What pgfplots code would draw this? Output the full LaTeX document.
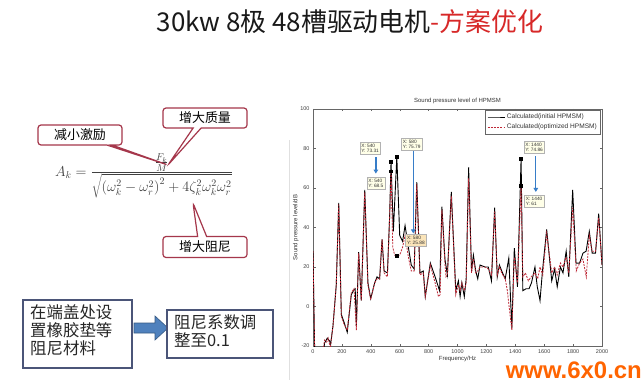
\documentclass[border=0pt]{standalone}
\usepackage{fontspec}
\setmainfont{Liberation Sans}
\newfontfamily\cjk{Noto Sans CJK SC}
\usepackage{pgfplots}
\pgfplotsset{compat=1.18}
\usetikzlibrary{shapes.callouts,arrows.meta}
\definecolor{optred}{RGB}{190,40,55}
\definecolor{callborder}{RGB}{165,55,75}
\definecolor{boxborder}{RGB}{75,85,120}
\definecolor{arrowblue}{RGB}{79,129,189}
\definecolor{tipblue}{RGB}{55,125,200}
\definecolor{tipfill}{RGB}{255,255,232}
\definecolor{tipfill2}{RGB}{250,228,185}
\definecolor{titlered}{RGB}{215,40,40}
\definecolor{wmorange}{RGB}{255,100,0}
\begin{document}
\begin{tikzpicture}
\begin{scope}[x=1bp,y=1bp]
\useasboundingbox (0,0) rectangle (642,388);
\fill[white] (0,0) rectangle (642,388);
% title
\node[anchor=center, font=\cjk\fontsize{26}{30}\selectfont, text=black!90] at (350,366) {30kw 8极 48槽驱动电机\textcolor{titlered}{-方案优化}};
% formula
\node[anchor=center, text=black!75, font=\fontsize{14}{16}\selectfont] at (144,212) {$\displaystyle A_k=\frac{\frac{F_k}{M}}{\sqrt{\left(\omega_k^2-\omega_r^2\right)^2+4\zeta_k^2\omega_k^2\omega_r^2}}$};
% callouts
\node[rectangle callout, draw=callborder, fill=white, line width=1.2bp, rounded corners=3bp,
  callout absolute pointer={(168,223)}, callout pointer width=5bp,
  minimum width=84bp, minimum height=20bp, inner sep=1bp, font=\cjk\fontsize{13}{15}\selectfont] at (80,253) {减小激励};
\node[rectangle callout, draw=callborder, fill=white, line width=1.2bp, rounded corners=3bp,
  callout absolute pointer={(168,223)}, callout pointer width=8bp,
  minimum width=84bp, minimum height=20bp, inner sep=1bp, font=\cjk\fontsize{13}{15}\selectfont] at (205,270) {增大质量};
\node[rectangle callout, draw=callborder, fill=white, line width=1.2bp, rounded corners=3bp,
  callout absolute pointer={(193,185)}, callout pointer width=9bp,
  minimum width=84bp, minimum height=21bp, inner sep=1bp, font=\cjk\fontsize{13}{15}\selectfont] at (205,141) {增大阻尼};
% bottom boxes
\draw[boxborder, line width=1.2bp, fill=white] (23,20) rectangle (132,88);
\node[anchor=north west, align=left, font=\cjk\fontsize{16.5}{18.5}\selectfont, text=black!85, inner sep=0pt] at (30,84) {在端盖处设\\置橡胶垫等\\阻尼材料};
\fill[arrowblue, draw=arrowblue!70!black, line width=0.6bp] (134,55) -- (155,55) -- (155,48) -- (168,60) -- (155,72) -- (155,65) -- (134,65) -- cycle;
\draw[boxborder, line width=1.2bp, fill=white] (167,30) rectangle (273,78);
\node[anchor=north west, align=left, font=\cjk\fontsize{16.5}{19}\selectfont, text=black!85, inner sep=0pt] at (174,74) {阻尼系数调\\整至0.1};
% faint figure border
\draw[black!12, line width=0.5bp] (289,248) -- (289,8);
\end{scope}
\begin{axis}[
  at={(313bp,42bp)}, anchor=south west,
  width=289bp, height=237bp, scale only axis,
  xmin=0, xmax=2000, ymin=-20, ymax=100,
  xtick={0,200,...,2000}, ytick={-20,0,...,100},
  tick align=inside, major tick length=2.5bp,
  tick style={black!60, line width=0.4bp},
  tick label style={font=\fontsize{5.5}{6}\selectfont, text=black!75},
  /pgf/number format/assume math mode=true,
  /pgf/number format/1000 sep={},
  title={Sound pressure level of HPMSM},
  title style={font=\fontsize{6}{7}\selectfont, text=black!80, yshift=-4bp},
  xlabel={Frequency/Hz}, ylabel={Sound pressure level/dB},
  xlabel style={font=\fontsize{6}{7}\selectfont, text=black!80, yshift=4bp},
  ylabel style={font=\fontsize{6}{7}\selectfont, text=black!80, yshift=-5bp},
  axis line style={black!60, line width=0.5bp},
  legend style={at={(0.995,0.995)}, anchor=north east, font=\fontsize{6.6}{7.5}\selectfont, draw=black!60, line width=0.4bp, inner sep=1.5bp, text=black!80},
  legend cell align=left,
  clip=true,
]
\addplot[black, line width=0.9bp] coordinates {
(0,28) (12,-25) (40,-30) (70,-25) (80,-18.5) (99,-16) (115,-17.5) (122,-19) (138,-10) (161,11) (178,52.5) (196,-4) (215,-8) (237,-13) (265,6) (284,8.5) (292,9) (300,-10) (316,27.5) (334,3) (358,59) (380,12) (399,4) (427,12) (443,15) (461,14) (478,34) (492,18) (515,17) (530,45) (540,73.31) (556,38) (580,75.79) (600,36) (620,33) (637,41) (660,30) (680,21) (700,19) (718,63) (740,17) (763,18) (777,5) (812,22) (845,15) (876,8) (892,50.5) (913,24) (930,16) (957,58) (988,8) (1006,13) (1018,5) (1030,12) (1047,5) (1060,14) (1077,70.5) (1097,18) (1110,26) (1126,18) (1140,14) (1156,21) (1190,20) (1213,20) (1235,13) (1257,50) (1275,15) (1290,21) (1306,18) (1330,14) (1355,24.5) (1376,-11) (1393,29.5) (1415,10) (1440,74.86) (1452,8) (1475,9) (1495,9) (1512,12) (1536,20) (1552,10) (1571,3) (1588,18) (1617,39) (1652,13) (1672,19) (1690,10) (1712,20) (1730,17) (1752,28) (1770,15) (1797,59) (1820,22) (1845,22) (1868,27) (1890,28) (1912,38) (1932,27) (1955,27) (1977,47) (2000,21)
};
\addlegendentry{Calculated(initial HPMSM)}
\addplot[optred, line width=0.8bp, dash pattern=on 2bp off 1.2bp] coordinates {
(0,28) (12,-25) (40,-30) (70,-22) (80,-17) (95,-18) (105,-16) (120,-21) (138,-10) (161,11) (178,52) (196,-5) (215,-9) (237,-12) (265,7) (284,9) (300,-12) (316,27) (334,3) (358,58) (380,11) (399,3.5) (427,12) (443,14) (461,14) (478,34) (492,17) (515,15) (530,45) (540,68.5) (552,30) (565,26) (580,25.88) (600,26) (620,30) (637,36) (660,25) (680,18) (700,18) (718,62) (740,16) (763,17) (777,5) (812,21) (845,12) (868,5) (880,6) (892,49) (913,22) (920,15) (930,16) (957,56) (988,6) (1006,11) (1018,8) (1030,12) (1047,8) (1060,12) (1077,65) (1097,17) (1110,24) (1126,17) (1140,18) (1156,20) (1190,20) (1213,19) (1235,16) (1257,48) (1275,16) (1290,20) (1306,17) (1330,14) (1345,8) (1357,0) (1376,-12) (1393,25) (1415,12) (1440,61) (1452,15) (1470,17) (1490,13) (1510,15) (1536,17) (1555,14) (1571,20) (1590,16) (1617,37) (1652,17) (1672,20) (1690,16) (1712,22) (1730,20) (1752,25) (1770,17) (1797,50) (1822,18) (1845,22) (1868,24) (1891,15) (1912,36) (1932,28) (1955,28) (1977,45) (2000,21)
};
\addlegendentry{Calculated(optimized HPMSM)}
\addplot[only marks, mark=square*, mark size=1.4bp, black, forget plot] coordinates {
(540,73.31) (540,68.5) (580,75.79) (580,25.88) (1440,74.86) (1440,61)
};
% data tips
\begin{scope}[every node/.style={draw=black!30, fill=tipfill, font=\fontsize{4.8}{5.4}\selectfont, align=left, inner sep=1.5bp, text=black!80}]
\node at (axis cs:395,80) {X: 540\\Y: 73.31};
\node at (axis cs:435,62.3) {X: 540\\Y: 68.5};
\node at (axis cs:683,82) {X: 580\\Y: 75.79};
\node[fill=tipfill2] at (axis cs:712,33.5) {X: 580\\Y: 25.88};
\node at (axis cs:1530,80.5) {X: 1440\\Y: 74.86};
\node at (axis cs:1530,53.3) {X: 1440\\Y: 61};
\end{scope}
\draw[tipblue, line width=1.3bp, -{Triangle[width=4.5bp,length=4bp]}] (axis cs:435,75.5) -- (axis cs:435,67.3);
\draw[tipblue, line width=1.3bp, -{Triangle[width=4.5bp,length=4bp]}] (axis cs:694,78.5) -- (axis cs:694,37);
\draw[tipblue, line width=1.3bp, -{Triangle[width=4.5bp,length=4bp]}] (axis cs:1542,76) -- (axis cs:1542,58);
\end{axis}
% watermark
\node[anchor=east, font=\fontsize{24}{26}\selectfont\bfseries, text=wmorange, inner sep=0pt] at (642bp,18bp) {www.6x0.cn};
\end{tikzpicture}
\end{document}
